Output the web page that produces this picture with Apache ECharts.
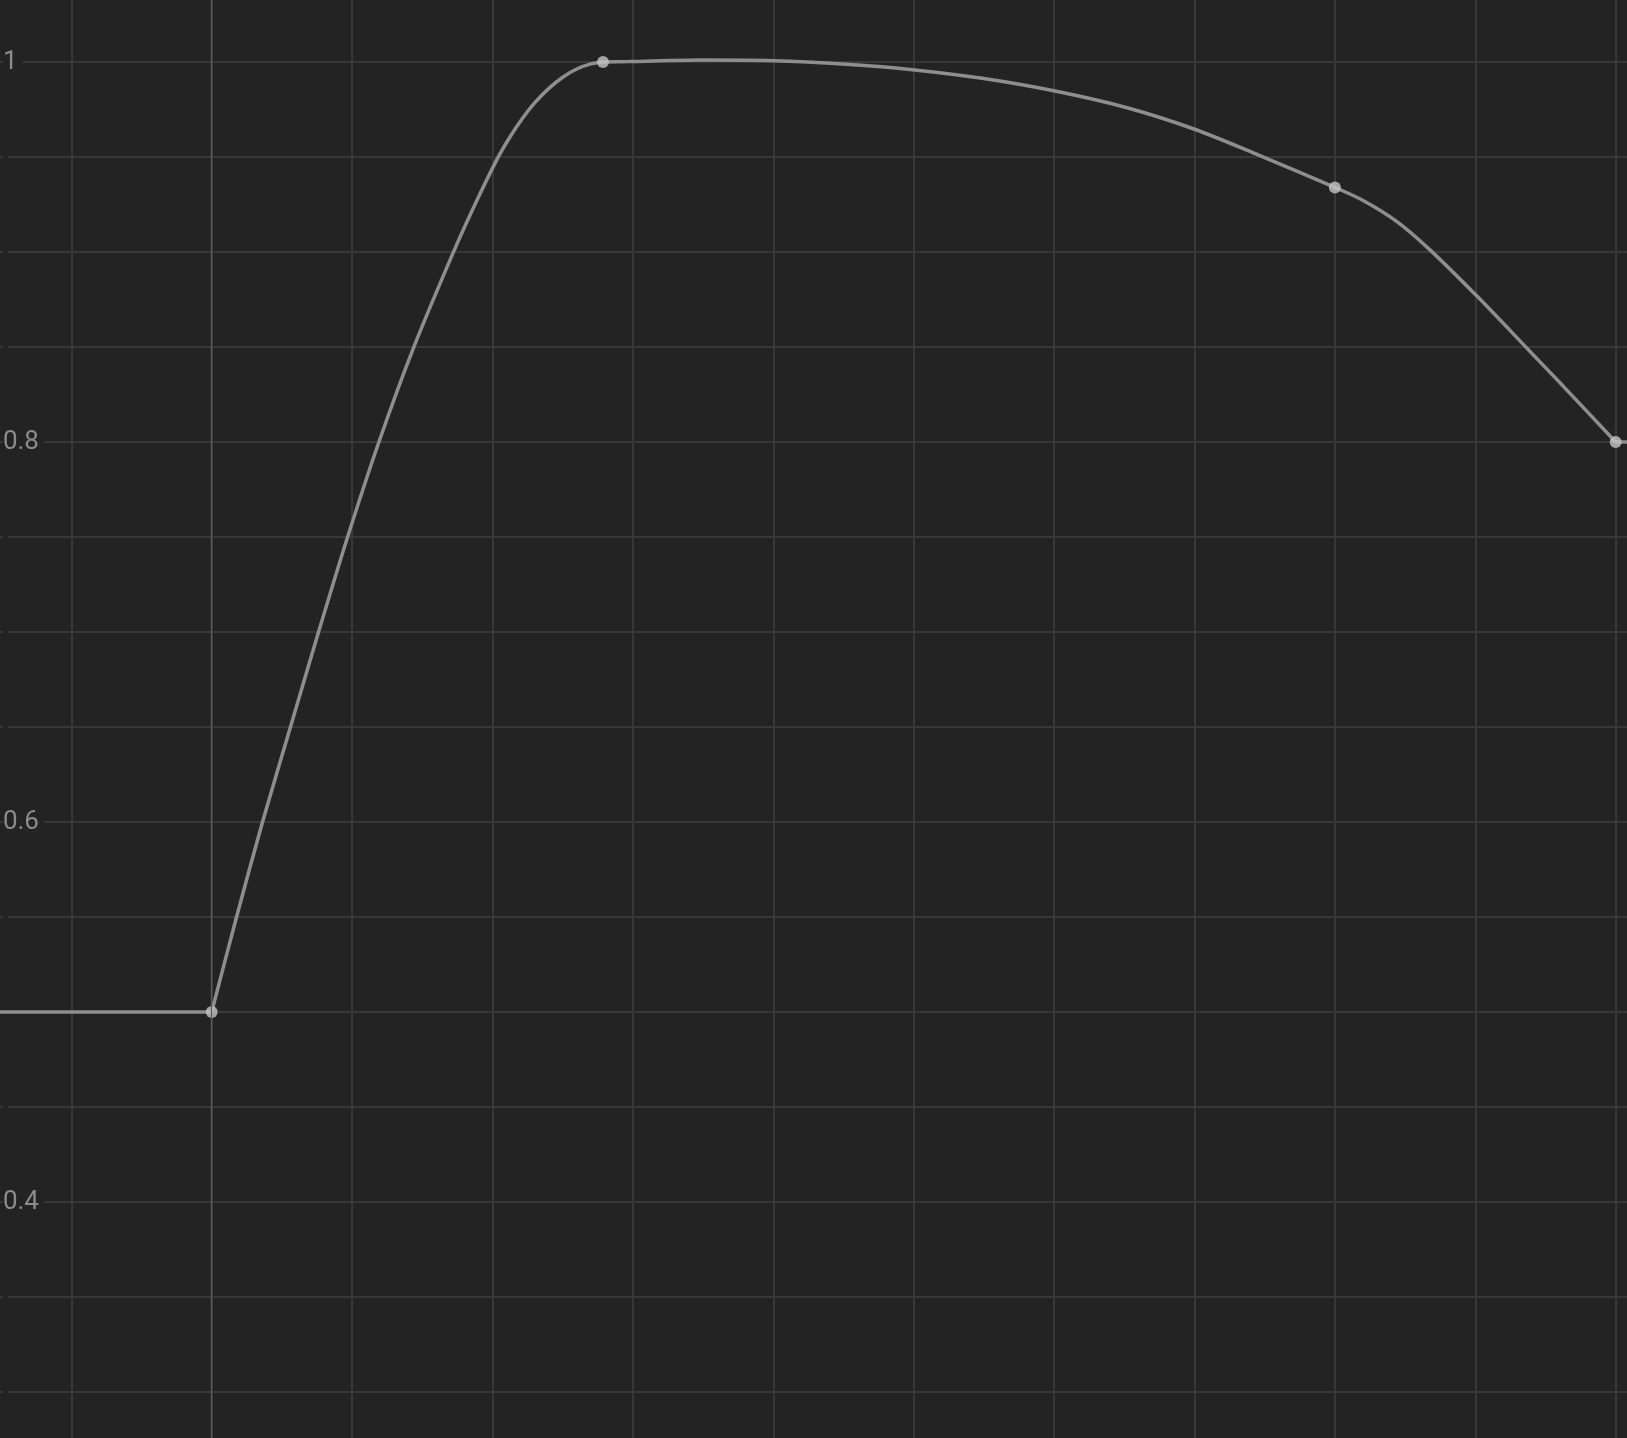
<!DOCTYPE html>
<html>
<head>
<meta charset="utf-8">
<script src="https://cdn.jsdelivr.net/npm/echarts@6/dist/echarts.min.js"></script>
<style>
html,body{margin:0;padding:0;background:#232323;}
#chart{width:1627px;height:1438px;}
</style>
</head>
<body>
<div id="chart"></div>
<script>
// Key frames (time, value)
var keyTimes  = [0, 0.2787, 0.8, 1.0];
var keyValues = [0.5, 1.0, 0.934, 0.8];

// Curve samples, per segment (time, value)
var leadTimes  = [-0.151, 0];
var leadValues = [0.5, 0.5];

var riseTimes  = [0, 0.0177, 0.0362, 0.0561, 0.0761, 0.0968, 0.1191, 0.1436, 0.1721, 0.1875, 0.2030,
                  0.2120, 0.2210, 0.2300, 0.2400, 0.2500, 0.2600, 0.2700, 0.2787];
var riseValues = [0.5, 0.55, 0.600, 0.650, 0.700, 0.750, 0.800, 0.8493, 0.8998, 0.9250, 0.9485,
                  0.9600, 0.9700, 0.9785, 0.9860, 0.9920, 0.9963, 0.9990, 1.0];

var fallTimes  = [0.2787, 0.2969, 0.3485, 0.4005, 0.4522, 0.5006, 0.5487, 0.6006, 0.6526, 0.7001, 0.7457, 0.8,
                  0.8204, 0.8442, 0.8679, 0.9022, 0.9366, 0.9627, 1.0];
var fallValues = [1.0, 1.0002, 1.001, 1.0007, 0.9988, 0.9958, 0.9914, 0.9847, 0.9758, 0.9646, 0.951, 0.934,
                  0.9270, 0.9160, 0.9010, 0.8760, 0.8495, 0.8293, 0.8];

var tailTimes  = [1.0, 1.01];
var tailValues = [0.8, 0.8];

// Axis ranges and label ticks
var xMin = -0.2, xMax = 1.1, xStep = 0.1;
var yMin = 0.25, yMax = 1.05, yStep = 0.05, yLabelStep = 0.2;
var zeroLine = [0];

function pairs(ts, vs) { return ts.map(function (t, i) { return [t, vs[i]]; }); }

var curveStyle = {color: '#8e8e8e', width: 3.5};
function curveSeries(ts, vs) {
  return {
    type: 'line', data: pairs(ts, vs), showSymbol: false,
    smooth: 0.3, z: 3, silent: true,
    lineStyle: curveStyle
  };
}

var chart = echarts.init(document.getElementById('chart'), null, {renderer: 'canvas'});
chart.setOption({
  backgroundColor: '#232323',
  animation: false,
  grid: {
    left: -69.1, right: -129.1, top: -33, bottom: -49,
    containLabel: false, outerBoundsMode: 'none'
  },
  xAxis: {
    type: 'value', min: xMin, max: xMax, interval: xStep,
    axisLine: {show: false}, axisTick: {show: false}, axisLabel: {show: false},
    splitLine: {show: true, lineStyle: {color: '#383838', width: 2}}
  },
  yAxis: {
    type: 'value', min: yMin, max: yMax, interval: yStep,
    axisLine: {show: false}, axisTick: {show: false},
    axisLabel: {
      show: true, inside: true, margin: 72,
      color: '#8c8c8c', fontSize: 26, fontFamily: 'Roboto',
      backgroundColor: '#232323', padding: [2, 5, 2, 0],
      formatter: function (v) {
        var r = v / yLabelStep;
        if (Math.abs(r - Math.round(r)) < 1e-6) return String(Number(v.toFixed(1)));
        return '';
      }
    },
    splitLine: {show: true, lineStyle: {color: '#383838', width: 2}}
  },
  series: [
    {
      type: 'line', data: [], silent: true, z: 1,
      markLine: {
        silent: true, symbol: ['none', 'none'], label: {show: false},
        lineStyle: {color: '#5c5c5c', width: 1.3, type: 'solid'},
        data: zeroLine.map(function (v) { return {xAxis: v}; })
      }
    },
    curveSeries(leadTimes, leadValues),
    curveSeries(riseTimes, riseValues),
    curveSeries(fallTimes, fallValues),
    curveSeries(tailTimes, tailValues),
    {
      type: 'scatter', data: pairs(keyTimes, keyValues), symbol: 'circle', symbolSize: 12, z: 4,
      itemStyle: {color: '#c4c4c4'}
    }
  ]
});
</script>
</body>
</html>
